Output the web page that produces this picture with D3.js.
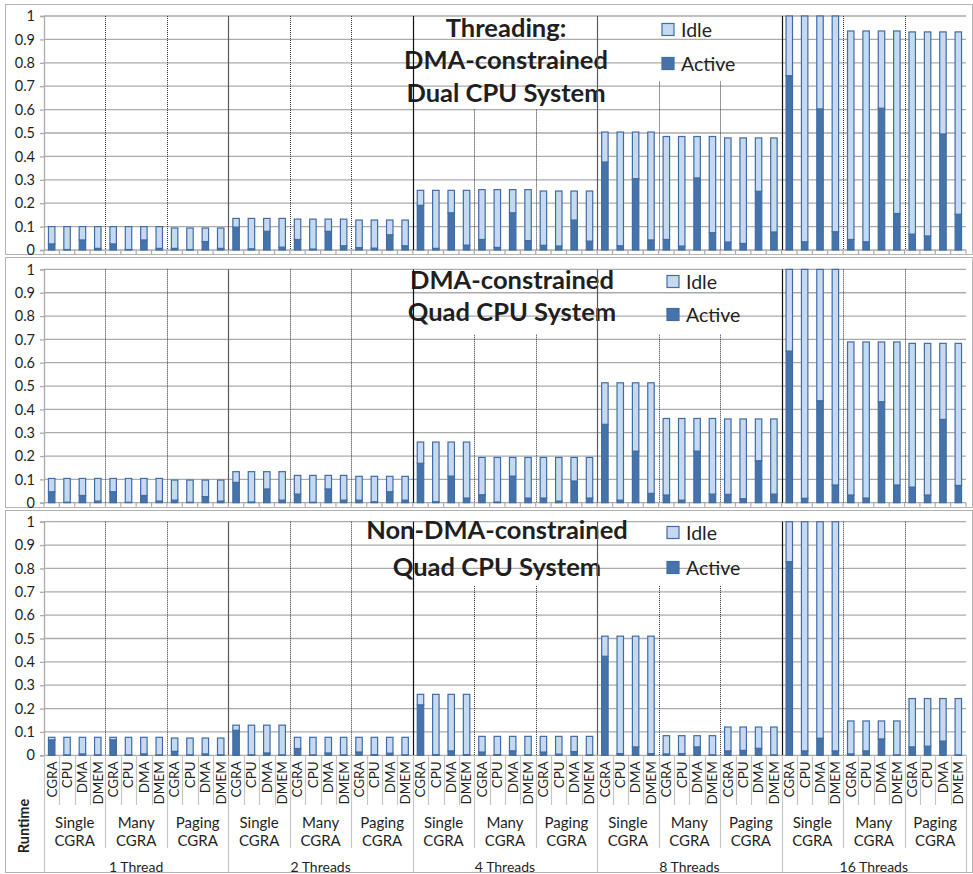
<!DOCTYPE html>
<html><head><meta charset="utf-8">
<script src="https://cdn.jsdelivr.net/npm/d3@7"></script>
<style>
body{margin:0;background:#fff}
svg{display:block}
text{font-family:Lato,"Open Sans",sans-serif;fill:#1f1f1f}
</style>
</head><body>
<svg id="chart" width="973" height="874"></svg>
<script>
// ---------------- DATA ----------------
const threads = ["1 Thread","2 Threads","4 Threads","8 Threads","16 Threads"];
const configs = [["Single","CGRA"],["Many","CGRA"],["Paging","CGRA"]];
const components = ["CGRA","CPU","DMA","DMEM"];
const seriesNames = ["Idle","Active"];
const yTicks = [0,0.1,0.2,0.3,0.4,0.5,0.6,0.7,0.8,0.9,1];
const yTickLabels = ["0","0.1","0.2","0.3","0.4","0.5","0.6","0.7","0.8","0.9","1"];
const axisTitle = "Runtime";

const titleDual = ["Threading:","DMA-constrained","Dual CPU System"];
const titleQuad = ["DMA-constrained","Quad CPU System"];
const titleNonDma = ["Non-DMA-constrained","Quad CPU System"];

// total runtime per bar (Active + Idle), 60 bars: thread x config x component
const dualTotal = [
 0.100,0.100,0.100,0.100, 0.100,0.100,0.100,0.100, 0.094,0.094,0.094,0.094,
 0.135,0.135,0.135,0.135, 0.132,0.132,0.132,0.132, 0.128,0.128,0.128,0.128,
 0.255,0.255,0.255,0.255, 0.258,0.258,0.258,0.258, 0.252,0.252,0.252,0.252,
 0.504,0.504,0.504,0.504, 0.485,0.485,0.485,0.485, 0.479,0.479,0.479,0.479,
 1.000,1.000,1.000,1.000, 0.936,0.936,0.936,0.936, 0.932,0.932,0.932,0.932];
const dualActive = [
 0.026,0.002,0.043,0.007, 0.026,0.002,0.043,0.007, 0.007,0.002,0.036,0.007,
 0.098,0.005,0.080,0.012, 0.045,0.004,0.080,0.018, 0.010,0.008,0.065,0.018,
 0.191,0.007,0.159,0.021, 0.045,0.011,0.159,0.040, 0.020,0.017,0.128,0.038,
 0.376,0.018,0.305,0.043, 0.045,0.017,0.308,0.074, 0.034,0.028,0.251,0.077,
 0.745,0.035,0.603,0.078, 0.045,0.035,0.606,0.156, 0.068,0.060,0.496,0.153];

const quadTotal = [
 0.104,0.104,0.104,0.104, 0.104,0.104,0.104,0.104, 0.097,0.097,0.097,0.097,
 0.133,0.133,0.133,0.133, 0.117,0.117,0.117,0.117, 0.113,0.113,0.113,0.113,
 0.260,0.260,0.260,0.260, 0.194,0.194,0.194,0.194, 0.194,0.194,0.194,0.194,
 0.514,0.514,0.514,0.514, 0.361,0.361,0.361,0.361, 0.359,0.359,0.359,0.359,
 1.000,1.000,1.000,1.000, 0.689,0.689,0.689,0.689, 0.683,0.683,0.683,0.683];
const quadActive = [
 0.047,0.002,0.031,0.007, 0.047,0.002,0.031,0.007, 0.011,0.002,0.026,0.007,
 0.087,0.003,0.059,0.011, 0.037,0.002,0.059,0.011, 0.011,0.004,0.047,0.011,
 0.169,0.004,0.114,0.020, 0.034,0.003,0.114,0.020, 0.020,0.007,0.093,0.020,
 0.336,0.011,0.221,0.040, 0.033,0.011,0.221,0.037, 0.036,0.017,0.180,0.037,
 0.650,0.019,0.437,0.076, 0.033,0.020,0.433,0.076, 0.067,0.033,0.357,0.074];

const nonDmaTotal = [
 0.077,0.077,0.077,0.077, 0.077,0.077,0.077,0.077, 0.074,0.074,0.074,0.074,
 0.129,0.129,0.129,0.129, 0.077,0.077,0.077,0.077, 0.077,0.077,0.077,0.077,
 0.261,0.261,0.261,0.261, 0.081,0.081,0.081,0.081, 0.081,0.081,0.081,0.081,
 0.510,0.510,0.510,0.510, 0.084,0.084,0.084,0.084, 0.121,0.121,0.121,0.121,
 1.000,1.000,1.000,1.000, 0.147,0.147,0.147,0.147, 0.243,0.243,0.243,0.243];
const nonDmaActive = [
 0.066,0.002,0.006,0.002, 0.066,0.002,0.006,0.002, 0.017,0.002,0.006,0.002,
 0.107,0.002,0.010,0.002, 0.029,0.002,0.010,0.002, 0.014,0.003,0.009,0.002,
 0.216,0.003,0.019,0.003, 0.014,0.003,0.019,0.002, 0.014,0.005,0.016,0.002,
 0.424,0.007,0.036,0.007, 0.006,0.007,0.036,0.002, 0.019,0.021,0.030,0.002,
 0.829,0.019,0.073,0.019, 0.006,0.019,0.070,0.002, 0.036,0.039,0.061,0.002];

// ---------------- LAYOUT / STYLE ----------------
const C = {
  idleFill:"#C6D9F1", activeFill:"#4673A9", barStroke:"#3F6DA5",
  grid:"#ababab", border:"#b4b4b4", sepLabel:"#c6c6c6"
};
const X0 = 44, X1 = 966;
const panels = [
  {total:dualTotal, active:dualActive, title:titleDual, top:16, base:250,
   box:[5,4,972,254], titleX:506, titleY:[28,60,93], legX:662, legY:[30,64],
   sepStart:[null,null,0.6,0.72,null]},
  {total:quadTotal, active:quadActive, title:titleQuad, top:269.4, base:502.7,
   box:[5,257,972,507], titleX:512, titleY:[280,312], legX:667, legY:[282,315],
   sepStart:[null,null,0.72,0.72,null]},
  {total:nonDmaTotal, active:nonDmaActive, title:titleNonDma, top:521.7, base:755.3,
   box:[5,510,972,872], titleX:497, titleY:[530,567], legX:667, legY:[533,568],
   sepStart:[null,null,0.725,0.725,null]}
];

const svg = d3.select("#chart");
const nCat = threads.length*configs.length*components.length;
const cats = [];
threads.forEach((t,ti)=>configs.forEach((c,ci)=>components.forEach((m,mi)=>{
  cats.push({i:cats.length, thread:ti, config:ci, comp:m});
})));

const x = d3.scaleBand().domain(d3.range(nCat)).range([X0,X1]).paddingInner(0.58).paddingOuter(0.29);
const xb = d3.scaleLinear().domain([0,nCat]).range([X0,X1]);

// title font fit (Calibri-like size)
const probe = svg.append("text").attr("font-weight","bold").attr("font-size",100).text("DMA-constrained");
const titleSize = 100*204/probe.node().getComputedTextLength();
probe.remove();

panels.forEach((P,pi)=>{
  const g = svg.append("g");
  const y = d3.scaleLinear().domain([0,1]).range([P.base,P.top]);

  g.append("rect").attr("x",P.box[0]+0.5).attr("y",P.box[1]+0.5)
    .attr("width",P.box[2]-P.box[0]).attr("height",P.box[3]-P.box[1])
    .attr("fill","none").attr("stroke",C.border);

  // gridlines
  g.append("g").selectAll("line").data(yTicks.slice(1)).join("line")
    .attr("x1",X0).attr("x2",X1).attr("y1",d=>y(d)).attr("y2",d=>y(d))
    .attr("stroke",C.grid).attr("stroke-width",1.3);

  // y axis
  const ya = g.append("g").attr("transform",`translate(${X0},0)`)
    .call(d3.axisLeft(y).tickValues(yTicks).tickFormat((d,i)=>yTickLabels[i]).tickSize(4).tickPadding(5));
  ya.select(".domain").attr("stroke",C.grid).attr("stroke-width",1.3);
  ya.selectAll(".tick line").attr("stroke",C.grid).attr("stroke-width",1.3);
  ya.selectAll(".tick text").attr("font-size",14.5).attr("fill","#2a2a2a")
    .style("font-family","Lato, 'Open Sans', sans-serif");

  // baseline + category ticks
  g.append("line").attr("x1",X0).attr("x2",X1).attr("y1",y(0)).attr("y2",y(0))
    .attr("stroke",C.grid).attr("stroke-width",1.3);
  if (pi < 2) {
    g.append("g").selectAll("line").data(d3.range(nCat+1)).join("line")
      .attr("x1",d=>xb(d)).attr("x2",d=>xb(d)).attr("y1",y(0)).attr("y2",y(0)+4)
      .attr("stroke",C.grid).attr("stroke-width",1.2);
  }

  // title
  P.title.forEach((t,k)=>{
    g.append("text").attr("x",P.titleX).attr("y",P.titleY[k]).attr("dy","0.35em")
      .attr("text-anchor","middle").attr("font-weight","bold").attr("font-size",titleSize)
      .attr("fill","#1a1a1a").text(t);
  });

  // separators (config dotted, thread solid)
  const seps = [];
  for (let b=4;b<nCat;b+=4) {
    const ti = Math.floor(b/12);
    const solid = b%12===0;
    seps.push({b, solid, dark: solid && (b/12)%2===0,
      start: solid ? 1 : (P.sepStart[ti] ?? 1)});
  }
  g.append("g").selectAll("line").data(seps).join("line")
    .attr("x1",d=>Math.round(xb(d.b))+0.5).attr("x2",d=>Math.round(xb(d.b))+0.5)
    .attr("y1",d=>y(d.start)).attr("y2",y(0))
    .attr("stroke",d=>d.solid ? (d.dark ? "#111" : "#5a5a5a") : "#333")
    .attr("stroke-width",d=>d.solid?1.2:1)
    .attr("stroke-dasharray",d=>d.solid?null:"1,1");

  // bars
  const rows = cats.map(c=>({i:c.i, Active:P.active[c.i], Idle:P.total[c.i]-P.active[c.i]}));
  const stacked = d3.stack().keys(["Active","Idle"])(rows);
  const colorOf = {Active:C.activeFill, Idle:C.idleFill};
  g.append("g").selectAll("g").data(stacked).join("g")
    .attr("fill",s=>colorOf[s.key])
    .selectAll("rect").data(s=>s).join("rect")
      .attr("x",d=>x(d.data.i)).attr("width",x.bandwidth())
      .attr("y",d=>y(Math.min(1,d[1])))
      .attr("height",d=>Math.max(0,y(d[0])-y(Math.min(1,d[1]))))
      .attr("stroke",C.barStroke).attr("stroke-width",1.2);

  // legend
  seriesNames.forEach((s,k)=>{
    g.append("rect").attr("x",P.legX).attr("y",P.legY[k]-6.5).attr("width",12).attr("height",12)
      .attr("fill",s==="Idle"?C.idleFill:C.activeFill).attr("stroke",C.barStroke).attr("stroke-width",1.2);
    g.append("text").attr("x",P.legX+19).attr("y",P.legY[k]).attr("dy","0.35em")
      .attr("font-size",19.5).attr("fill","#1f1f1f").text(s);
  });

  // category axis labels on last panel
  if (pi === 2) {
    const b0 = y(0);
    const la = g.append("g");
    // separators in label area
    la.selectAll("line").data(d3.range(nCat+1)).join("line")
      .attr("x1",d=>Math.round(xb(d))+0.5).attr("x2",d=>Math.round(xb(d))+0.5)
      .attr("y1",b0)
      .attr("y2",d=> d%12===0 ? 872 : (d%4===0 ? 848 : 805))
      .attr("stroke",C.sepLabel).attr("stroke-width",1.2);
    // component labels
    la.selectAll("text.comp").data(cats).join("text").attr("class","comp")
      .attr("transform",d=>`translate(${x(d.i)+x.bandwidth()/2},${b0+6}) rotate(-90)`)
      .attr("dy","0.36em").attr("text-anchor","end").attr("font-size",13.5).attr("fill","#222")
      .text(d=>d.comp);
    // config labels
    const cfgs = [];
    threads.forEach((t,ti)=>configs.forEach((c,ci)=>cfgs.push({pos:ti*12+ci*4+2, lines:c})));
    cfgs.forEach(c=>{
      c.lines.forEach((l,k)=>{
        la.append("text").attr("x",xb(c.pos)).attr("y",823+k*17.5).attr("dy","0.35em")
          .attr("text-anchor","middle").attr("font-size",15).attr("fill","#222").text(l);
      });
    });
    threads.forEach((t,ti)=>{
      la.append("text").attr("x",xb(ti*12+6)).attr("y",867).attr("dy","0.35em")
        .attr("text-anchor","middle").attr("font-size",14).attr("fill","#222").text(t);
    });
    la.append("text").attr("transform","translate(24,826) rotate(-90)").attr("dy","0.35em")
      .attr("text-anchor","middle").attr("font-size",14.5).attr("font-weight","bold")
      .attr("fill","#1f1f1f").text(axisTitle);
  }
});
</script>
</body></html>
